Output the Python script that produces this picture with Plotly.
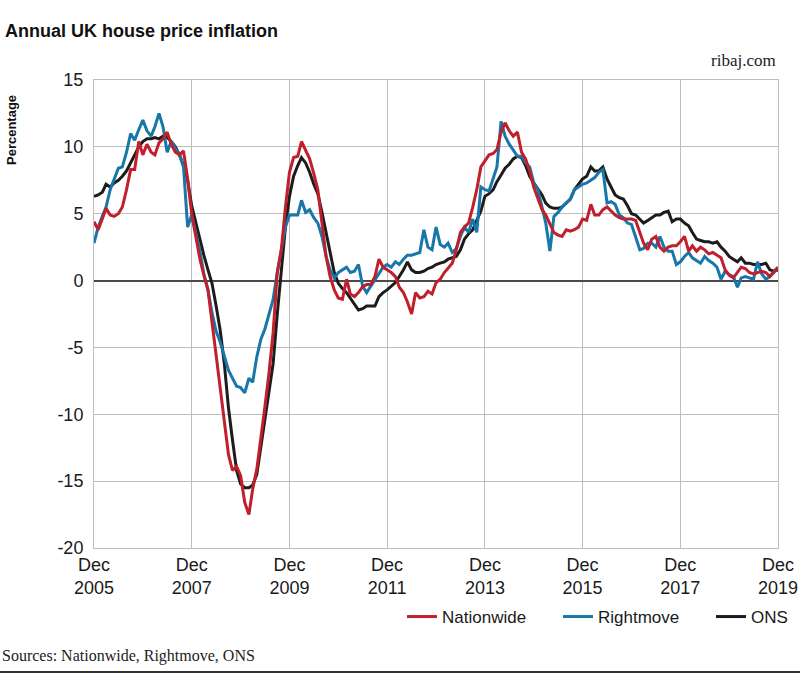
import pandas as pd
import plotly.graph_objects as go

# Monthly dates, Dec 2005 .. Dec 2019
dates = pd.date_range("2005-12-01", periods=169, freq="MS")

nationwide = [
    4.4, 3.8, 4.6, 5.4, 4.9, 4.8, 5.0, 5.5, 6.8, 8.3, 8.3, 10.4,
    9.4, 10.2, 9.6, 9.4, 10.3, 10.6, 11.1, 10.2, 9.6, 9.4, 9.7, 7.6,
    5.0, 3.2, 1.6, 0.4, -0.7, -3.1, -5.7, -8.2, -10.8, -13.0, -14.2, -13.9,
    -14.6, -16.6, -17.5, -15.6, -14.1, -11.9, -9.4, -6.9, -3.9, 0.6, 2.3, 5.5,
    8.1, 9.2, 9.3, 10.4, 9.8, 9.1, 8.0, 6.8, 4.3, 1.8, 0.3, -0.7,
    -1.3, -1.4, 0.1, -1.0, -1.2, -0.9, -0.45, -0.3, -0.3, 0.3, 1.6, 1.0,
    0.8, 0.6, 0.3, -0.5, -0.9, -1.6, -2.5, -0.9, -1.3, -1.2, -0.8, -1.0,
    -0.15, 0.1, 0.6, 0.9, 1.3, 2.3, 3.6, 4.0, 4.3, 5.5, 6.8, 8.5,
    8.9, 9.4, 9.5, 9.8, 11.1, 11.8, 11.2, 10.8, 11.1, 9.6, 9.1, 8.2,
    7.0, 6.1, 5.3, 4.9, 4.2, 3.6, 3.4, 3.3, 3.8, 3.7, 3.8, 4.0,
    4.6, 4.5, 5.7, 4.9, 4.9, 5.3, 5.5, 5.2, 4.9, 4.7, 4.6, 4.6,
    4.6, 4.5, 3.6, 2.8, 2.3, 3.1, 3.3, 2.5, 2.2, 2.5, 2.6, 2.6,
    2.9, 3.3, 2.2, 2.6, 2.2, 2.5, 2.3, 2.0, 2.1, 1.9, 1.7, 0.8,
    0.4, 0.2, 0.6, 1.0, 0.9, 0.6, 0.5, 0.6, 0.7, 0.6, 0.3, 0.7,
    1.0,
]

rightmove = [
    2.8, 4.0, 4.8, 5.5, 6.8, 7.6, 8.4, 8.5, 9.6, 11.0, 10.5, 11.3,
    12.0, 11.2, 10.8, 11.5, 12.5, 11.5, 9.6, 10.4, 9.9, 9.4, 8.5, 4.0,
    4.9, 3.6, 2.2, 0.5, -0.7, -2.4, -3.8, -4.6, -5.7, -6.7, -7.3, -7.9,
    -8.0, -8.4, -7.3, -7.6, -5.7, -4.4, -3.6, -2.5, -1.4, 0.6, 2.3, 4.0,
    4.9, 4.9, 4.9, 6.0, 5.1, 5.3, 4.7, 4.3, 3.3, 1.8, 0.8, 0.2,
    0.6, 0.8, 1.0, 0.6, 0.7, 1.2, -0.4, -0.9, -0.4, 0.1, 0.5, 1.0,
    1.2, 1.0, 1.4, 1.2, 1.6, 1.9, 1.9, 2.0, 2.1, 3.8, 2.5, 2.3,
    4.0, 2.7, 2.5, 2.8, 2.1, 2.4, 3.3, 4.0, 3.6, 4.6, 3.6, 7.0,
    6.8, 6.7, 7.6, 8.5, 11.9, 10.8, 10.2, 9.8, 9.3, 9.3, 8.8, 8.5,
    7.3, 6.8, 5.5, 4.3, 2.2, 4.8, 5.1, 5.5, 5.8, 6.1, 6.8, 7.0,
    7.2, 7.3, 7.5, 7.7, 8.1, 8.3, 5.8, 5.9, 5.7, 4.9, 4.7, 4.3,
    4.2, 3.3, 2.3, 2.4, 2.8, 2.8, 2.5, 3.3, 2.5, 2.2, 2.2, 1.2,
    1.4, 1.8, 2.1, 1.7, 1.5, 1.3, 1.8, 1.5, 1.3, 1.0, 0.1, 0.7,
    0.45, 0.3, -0.5, 0.2, 0.3, 0.2, 0.1, 1.4, 0.5, 0.1, 0.3, 0.6,
    1.0,
]

ons = [
    6.3, 6.4, 6.6, 7.2, 7.0, 7.3, 7.5, 7.8, 8.2, 8.8, 9.4, 10.0,
    10.4, 10.6, 10.6, 10.7, 10.6, 10.8, 10.7, 10.4, 10.0, 9.4, 8.6, 7.5,
    5.6, 4.3, 3.0, 1.9, 0.8, -0.2, -1.9, -3.7, -6.2, -9.5, -11.9, -14.2,
    -15.2, -15.5, -15.5, -15.3, -14.5, -12.5, -10.3, -8.2, -6.2, -2.5, 1.0, 4.0,
    6.3, 7.8, 8.6, 9.2, 8.8, 8.1, 7.2, 6.5, 5.1, 3.6, 1.9, 0.6,
    -0.2, -0.6, -0.9, -1.3, -1.8, -2.2, -2.1, -1.9, -1.9, -1.9, -1.2, -0.9,
    -0.7, -0.4, -0.15, 0.3, 0.8, 1.4, 0.8, 0.6, 0.6, 0.7, 0.9, 1.0,
    1.2, 1.3, 1.4, 1.6, 1.7, 1.8, 2.3, 3.1, 3.5, 3.8, 4.5, 5.2,
    6.3, 6.5, 6.8, 7.4, 7.9, 8.4, 8.7, 9.1, 9.3, 9.2, 8.6, 7.8,
    7.3, 6.8, 6.4, 5.8, 5.5, 5.4, 5.4, 5.5, 5.8, 6.1, 6.8, 7.2,
    7.6, 7.8, 8.5, 8.2, 8.2, 8.5, 7.6, 7.0, 6.4, 6.2, 6.1, 5.6,
    5.0, 4.9, 4.6, 4.3, 4.5, 4.7, 4.9, 4.9, 5.1, 5.2, 4.4, 4.6,
    4.6, 4.3, 4.1, 3.6, 3.1, 3.0, 2.9, 2.9, 2.8, 2.9, 2.5, 2.2,
    1.8, 1.6, 1.4, 1.7, 1.3, 1.3, 1.2, 1.2, 1.2, 1.3, 0.8, 0.7,
    0.8,
]

tick_dates = ["2005-12-01", "2007-12-01", "2009-12-01", "2011-12-01",
              "2013-12-01", "2015-12-01", "2017-12-01", "2019-12-01"]
tick_labels = ["Dec<br>2005", "Dec<br>2007", "Dec<br>2009", "Dec<br>2011",
               "Dec<br>2013", "Dec<br>2015", "Dec<br>2017", "Dec<br>2019"]
y_ticks = [15, 10, 5, 0, -5, -10, -15, -20]

RED = "#c01f2c"
BLUE = "#1677a8"
BLACK = "#1c1c1c"
SANS = "Liberation Sans, Arial, sans-serif"
SERIF = "Liberation Serif, Times New Roman, serif"

PW, PH = 684, 468  # plot area size in px (left 94, top 80)

fig = go.Figure()
fig.add_trace(go.Scatter(x=dates, y=ons, mode="lines", name="ONS",
                         line=dict(color=BLACK, width=3), legend="legend3"))
fig.add_trace(go.Scatter(x=dates, y=rightmove, mode="lines", name="Rightmove",
                         line=dict(color=BLUE, width=3), legend="legend2"))
fig.add_trace(go.Scatter(x=dates, y=nationwide, mode="lines", name="Nationwide",
                         line=dict(color=RED, width=3), legend="legend"))


def legend_at(px):
    return dict(orientation="h", x=(px - 94) / PW, xanchor="left",
                y=(548 - 617) / PH, yanchor="middle",
                font=dict(size=17, color="#1a1a1a"), bgcolor="rgba(0,0,0,0)")


fig.update_layout(
    width=800, height=674,
    margin=dict(l=94, r=22, t=80, b=126, autoexpand=False),
    paper_bgcolor="white", plot_bgcolor="white",
    font=dict(family=SANS, size=18, color="#1a1a1a"),
    showlegend=True,
    legend=legend_at(402),
    legend2=legend_at(558),
    legend3=legend_at(711),
)

fig.update_xaxes(
    type="date", range=["2005-12-01", "2019-12-01"],
    tickmode="array", tickvals=tick_dates, ticktext=tick_labels,
    showgrid=True, gridcolor="#bdbdbd", gridwidth=1,
    showline=True, linecolor="#bdbdbd", linewidth=1, mirror=True,
    ticks="", tickfont=dict(size=18, color="#1a1a1a"),
    zeroline=False,
)
fig.update_yaxes(
    range=[-20, 15], tickmode="array", tickvals=y_ticks,
    ticktext=[str(v) for v in y_ticks],
    showgrid=True, gridcolor="#bdbdbd", gridwidth=1,
    showline=True, linecolor="#bdbdbd", linewidth=1, mirror=True,
    zeroline=True, zerolinecolor="#4a4a4a", zerolinewidth=1.5,
    ticks="", ticklabelstandoff=6, tickfont=dict(size=18, color="#1a1a1a"),
)

annotations = [
    dict(text="Annual UK house price inflation", x=-91 / PW, xref="paper",
         y=1 + (80 - 31) / PH, yref="paper",
         showarrow=False, xanchor="left", yanchor="middle",
         font=dict(family=SANS, size=18, color="#111111", weight="bold")),
    dict(text="ribaj.com", x=1.0, xref="paper", y=1 + (80 - 61) / PH, yref="paper",
         showarrow=False, xanchor="right", yanchor="middle",
         font=dict(family=SERIF, size=17, color="#222222")),
    dict(text="Percentage", x=-82 / PW, xref="paper", y=1 - (130 - 80) / PH, yref="paper",
         showarrow=False, xanchor="center", yanchor="middle", textangle=-90,
         font=dict(family=SANS, size=13, color="#111111", weight="bold")),
    dict(text="Sources: Nationwide, Rightmove, ONS", x=-94 / PW, xref="paper",
         y=(548 - 656) / PH, yref="paper",
         showarrow=False, xanchor="left", yanchor="middle",
         font=dict(family=SERIF, size=16, color="#222222")),
]
fig.update_layout(annotations=annotations)

fig.add_shape(type="line", xref="paper", yref="paper",
              x0=-94 / PW, x1=706 / PW, y0=(548 - 672) / PH, y1=(548 - 672) / PH,
              line=dict(color="#333333", width=2))

fig.write_html("out.html", config={"displayModeBar": False},
               post_script="document.body.style.margin='0';")
